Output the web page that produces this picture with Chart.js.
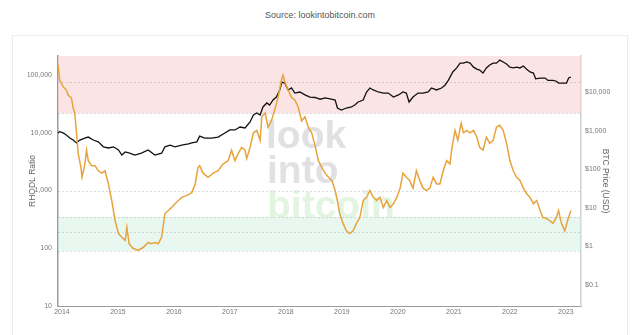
<!DOCTYPE html>
<html>
<head>
<meta charset="utf-8">
<script src="https://cdn.jsdelivr.net/npm/chart.js@4"></script>
<style>
  html, body { margin: 0; padding: 0; background: #fff; }
  body { width: 640px; height: 335px; overflow: hidden; position: relative; font-family: "Liberation Sans", Arial, sans-serif; }
  .source { position: absolute; top: 10px; left: 0; width: 640px; text-align: center; font-size: 9px; color: #555; }
  .card { position: absolute; left: 12px; top: 35px; width: 614px; height: 320px; border: 1px solid #ececec; background: #fff; }
  #wrap { position: absolute; left: 0; top: 0; width: 640px; height: 335px; }
</style>
</head>
<body>
<div class="source">Source: lookintobitcoin.com</div>
<div class="card"></div>
<div id="wrap"><canvas id="rhodl"></canvas></div>
<script>
// RHODL ratio (left axis)
const rhodlYears = [
  2013.93, 2013.96, 2014.02, 2014.08, 2014.11, 2014.17, 2014.20, 2014.23, 2014.26, 2014.29,
  2014.34, 2014.36, 2014.41, 2014.44, 2014.47, 2014.53, 2014.59, 2014.65, 2014.71, 2014.77,
  2014.83, 2014.89, 2014.95, 2015.01, 2015.07, 2015.13, 2015.16, 2015.20, 2015.27, 2015.36,
  2015.45, 2015.54, 2015.60, 2015.66, 2015.72, 2015.78, 2015.84, 2015.90, 2015.96, 2016.02,
  2016.08, 2016.14, 2016.20, 2016.26, 2016.32, 2016.38, 2016.43, 2016.46, 2016.52, 2016.61,
  2016.70, 2016.79, 2016.88, 2016.97, 2017.03, 2017.09, 2017.15, 2017.21, 2017.27, 2017.30,
  2017.36, 2017.42, 2017.48, 2017.54, 2017.57, 2017.63, 2017.68, 2017.74, 2017.80, 2017.86,
  2017.92, 2017.95, 2017.98, 2018.04, 2018.10, 2018.16, 2018.22, 2018.28, 2018.34, 2018.40,
  2018.46, 2018.52, 2018.58, 2018.64, 2018.70, 2018.76, 2018.82, 2018.88, 2018.93, 2018.96,
  2019.02, 2019.08, 2019.14, 2019.20, 2019.26, 2019.32, 2019.38, 2019.44, 2019.50, 2019.56,
  2019.62, 2019.68, 2019.74, 2019.80, 2019.86, 2019.92, 2019.98, 2020.04, 2020.09, 2020.15,
  2020.21, 2020.27, 2020.33, 2020.39, 2020.45, 2020.51, 2020.57, 2020.63, 2020.69, 2020.75,
  2020.81, 2020.87, 2020.93, 2020.96, 2021.02, 2021.07, 2021.13, 2021.17, 2021.23, 2021.29,
  2021.35, 2021.41, 2021.46, 2021.52, 2021.58, 2021.64, 2021.70, 2021.76, 2021.82, 2021.88,
  2021.94, 2022.00, 2022.06, 2022.12, 2022.18, 2022.24, 2022.30, 2022.36, 2022.42, 2022.48,
  2022.54, 2022.59, 2022.65, 2022.71, 2022.77, 2022.83, 2022.87, 2022.92, 2022.98, 2023.03,
  2023.09
];
const rhodlValues = [
  150000, 82000, 63000, 55000, 45000, 40000, 27000, 22000, 10000, 4400,
  2500, 1700, 2900, 5000, 3300, 2700, 2700, 2200, 2000, 2200,
  1300, 670, 300, 180, 155, 137, 230, 120, 100, 92,
  103, 126, 120, 126, 120, 155, 400, 450, 510, 590,
  670, 760, 800, 850, 920, 1300, 2500, 2700, 2000, 1700,
  2000, 2200, 2900, 3300, 5000, 3300, 4400, 5600, 5000, 3600,
  5600, 10000, 11000, 7400, 19000, 22000, 12500, 16000, 25000, 41000,
  82000, 100000, 76000, 55000, 41000, 37000, 28000, 16000, 19000, 12500,
  10000, 6000, 3300, 2500, 2000, 1700, 1500, 1000, 590, 400,
  270, 200, 180, 200, 270, 340, 670, 760, 1000, 760,
  670, 760, 510, 670, 510, 590, 760, 1100, 2000, 1700,
  1500, 1100, 2200, 1500, 1100, 1000, 1100, 1700, 1300, 1300,
  2200, 3300, 2900, 5000, 11000, 7400, 14600, 10000, 11000, 10000,
  11000, 8400, 5600, 5000, 8400, 6600, 7400, 12500, 13500, 11000,
  6600, 3300, 2200, 1700, 1500, 1100, 880, 760, 590, 670,
  450, 340, 330, 300, 270, 340, 450, 270, 200, 300,
  450
];

// BTC price in USD (right axis)
const priceYears = [
  2013.93, 2013.96, 2014.02, 2014.08, 2014.14, 2014.20, 2014.26, 2014.32, 2014.41, 2014.47,
  2014.56, 2014.65, 2014.74, 2014.83, 2014.92, 2015.01, 2015.07, 2015.13, 2015.21, 2015.30,
  2015.42, 2015.54, 2015.66, 2015.78, 2015.84, 2015.93, 2016.02, 2016.14, 2016.26, 2016.32,
  2016.41, 2016.46, 2016.55, 2016.67, 2016.79, 2016.91, 2017.00, 2017.09, 2017.18, 2017.27,
  2017.36, 2017.42, 2017.48, 2017.54, 2017.59, 2017.66, 2017.71, 2017.77, 2017.83, 2017.89,
  2017.93, 2017.98, 2018.04, 2018.10, 2018.16, 2018.25, 2018.34, 2018.43, 2018.52, 2018.61,
  2018.70, 2018.79, 2018.88, 2018.92, 2018.99, 2019.08, 2019.17, 2019.23, 2019.29, 2019.38,
  2019.44, 2019.50, 2019.56, 2019.65, 2019.74, 2019.83, 2019.92, 2020.01, 2020.09, 2020.15,
  2020.20, 2020.27, 2020.36, 2020.45, 2020.54, 2020.60, 2020.69, 2020.78, 2020.84, 2020.90,
  2020.98, 2021.05, 2021.11, 2021.17, 2021.23, 2021.29, 2021.35, 2021.41, 2021.46, 2021.52,
  2021.58, 2021.64, 2021.70, 2021.76, 2021.82, 2021.88, 2021.94, 2022.00, 2022.06, 2022.12,
  2022.18, 2022.24, 2022.30, 2022.36, 2022.42, 2022.46, 2022.54, 2022.63, 2022.68, 2022.77,
  2022.83, 2022.87, 2022.95, 2023.01, 2023.05, 2023.09
];
const priceValues = [
  870, 940, 870, 770, 640, 570, 480, 570, 640, 680,
  570, 510, 380, 355, 380, 315, 233, 280, 260, 233,
  260, 315, 233, 260, 380, 420, 380, 420, 450, 480,
  510, 720, 640, 640, 680, 870, 1040, 1040, 1240, 1170,
  1670, 2530, 2850, 2530, 4100, 5200, 4600, 6200, 7400, 11300,
  18000, 17000, 11300, 12700, 9400, 10000, 8400, 7400, 7200, 6500,
  7000, 6600, 6200, 3850, 3400, 3850, 4100, 4600, 5500, 6200,
  10000, 12700, 11300, 10000, 9400, 9400, 7400, 8400, 10000, 9400,
  5500, 7400, 9400, 9400, 10000, 12700, 11300, 12700, 15000, 20000,
  33000, 42000, 56000, 56000, 60000, 56000, 44000, 39000, 37000, 31000,
  42000, 50000, 56000, 56000, 67000, 60000, 53000, 44000, 42000, 44000,
  42000, 47000, 39000, 33000, 31000, 22000, 23000, 23000, 20000, 20000,
  19000, 17000, 17000, 17000, 23000, 24500
];

const yearTicks = [2014, 2015, 2016, 2017, 2018, 2019, 2020, 2021, 2022, 2023];
const ratioTicks = [10, 100, 1000, 10000, 100000];
const priceTicks = [0.1, 1, 10, 100, 1000, 10000];

// shaded zones and their dotted guide lines, in RHODL ratio units
const redZone = [21800, 214000];
const greenZone = [90, 350];
const guideLines = [75000, 21800, 1000, 350, 190, 90];

const tickFont = { family: "'Liberation Sans', Arial, sans-serif", size: 7 };
const titleFont = { family: "'Liberation Sans', Arial, sans-serif", size: 8.5 };

const zonesPlugin = {
  id: 'zones',
  beforeDatasetsDraw(chart) {
    const { ctx, chartArea: a, scales } = chart;
    const y = scales.y;
    ctx.save();
    ctx.beginPath();
    ctx.rect(a.left, a.top, a.right - a.left, a.bottom - a.top);
    ctx.clip();
    const band = (lo, hi, color) => {
      const top = y.getPixelForValue(hi), bot = y.getPixelForValue(lo);
      ctx.fillStyle = color;
      ctx.fillRect(a.left, top, a.right - a.left, bot - top);
    };
    band(redZone[0], redZone[1], 'rgba(248, 210, 210, 0.6)');
    band(greenZone[0], greenZone[1], 'rgba(205, 238, 220, 0.45)');

    ctx.strokeStyle = 'rgba(0, 0, 0, 0.13)';
    ctx.lineWidth = 1;
    ctx.setLineDash([2, 2]);
    guideLines.forEach(v => {
      const py = Math.round(y.getPixelForValue(v)) + 0.5;
      ctx.beginPath();
      ctx.moveTo(a.left, py);
      ctx.lineTo(a.right, py);
      ctx.stroke();
    });
    ctx.setLineDash([]);

    // site watermark
    ctx.font = "bold 39px 'Liberation Sans', Arial, sans-serif";
    ctx.textAlign = 'left';
    ctx.textBaseline = 'alphabetic';
    ctx.fillStyle = 'rgba(200, 200, 205, 0.55)';
    ctx.fillText('look', 266, 148);
    ctx.fillText('into', 267, 183);
    ctx.fillStyle = 'rgba(205, 238, 205, 0.6)';
    ctx.fillText('bitcoin', 267, 218);
    ctx.restore();
  }
};

new Chart(document.getElementById('rhodl'), {
  type: 'line',
  data: {
    datasets: [
      {
        label: 'RHODL Ratio',
        data: rhodlYears.map((x, i) => ({ x, y: rhodlValues[i] })),
        yAxisID: 'y',
        borderColor: '#e8a33d',
        borderWidth: 1.5,
        pointRadius: 0,
        tension: 0
      },
      {
        label: 'BTC Price',
        data: priceYears.map((x, i) => ({ x, y: priceValues[i] })),
        yAxisID: 'y1',
        borderColor: '#111',
        borderWidth: 1.3,
        pointRadius: 0,
        tension: 0
      }
    ]
  },
  options: {
    responsive: true,
    maintainAspectRatio: false,
    animation: false,
    layout: { padding: { left: 28, right: 30, top: 56, bottom: 9 } },
    plugins: {
      legend: { display: false },
      tooltip: { enabled: false }
    },
    scales: {
      x: {
        type: 'linear',
        min: 2013.93,
        max: 2023.27,
        afterBuildTicks: s => { s.ticks = yearTicks.map(v => ({ value: v })); },
        afterFit: s => { s.height = 20; },
        ticks: { font: tickFont, color: '#777', padding: 2, maxRotation: 0, callback: v => String(v) },
        grid: { display: false, drawTicks: false },
        border: { display: true, color: '#9a9a9a', width: 1 }
      },
      y: {
        type: 'logarithmic',
        position: 'left',
        min: 10,
        max: 214000,
        afterBuildTicks: s => { s.ticks = ratioTicks.map(v => ({ value: v })); },
        afterFit: s => { s.width = 30; },
        ticks: { font: tickFont, color: '#777', padding: 6, callback: v => Number(v).toLocaleString('en-US') },
        grid: { display: false, drawTicks: false },
        border: { display: true, color: '#9a9a9a', width: 1.5 },
        title: { display: true, text: 'RHODL Ratio', font: titleFont, color: '#666', padding: 0 }
      },
      y1: {
        type: 'logarithmic',
        position: 'right',
        min: 0.0286,
        max: 85600,
        afterBuildTicks: s => { s.ticks = priceTicks.map(v => ({ value: v })); },
        afterFit: s => { s.width = 29; },
        ticks: { font: tickFont, color: '#777', padding: 4, callback: v => '$' + Number(v).toLocaleString('en-US') },
        grid: { display: false, drawTicks: false },
        border: { display: true, color: '#cfcfcf', width: 1.5 },
        title: { display: true, text: 'BTC Price (USD)', font: titleFont, color: '#666', padding: 0 }
      }
    }
  },
  plugins: [zonesPlugin]
});
</script>
</body>
</html>
